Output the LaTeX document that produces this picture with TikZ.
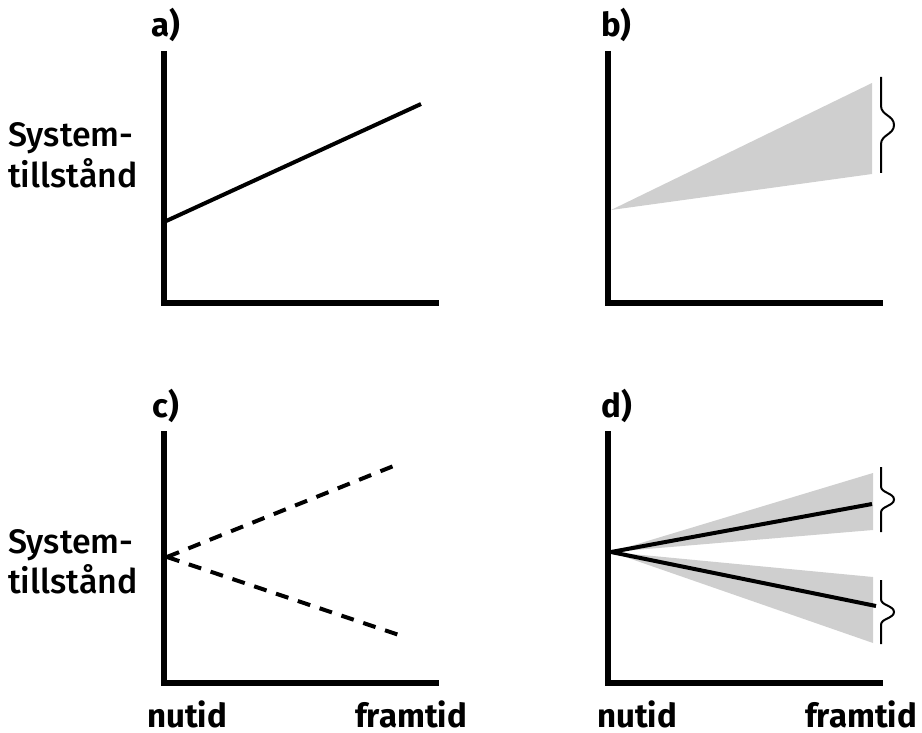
\documentclass[tikz,border=0pt]{standalone}
\usepackage{fontspec}
\setmainfont{Fira Sans}
\newfontfamily\medfont{Fira Sans Medium}
\usetikzlibrary{calc}
\tikzset{
  axisline/.style={line width=6pt, line join=miter},
  trendline/.style={line width=4pt},
  guessline/.style={line width=4pt, dash pattern=on 13pt off 10pt},
  spreadfill/.style={fill=black!19, draw=none},
  bracemark/.style={line width=2pt},
}
% curly bracket on the right of a spread: x, top, bottom
\newcommand{\spreadbrace}[3]{%
  \pgfmathsetmacro{\bm}{(#2+#3)/2}%
  \pgfmathsetmacro{\bh}{0.2*(#3-#2)}%
  \draw[bracemark] (#1,#2) -- (#1,\bm-\bh)
    .. controls (#1,\bm-0.5*\bh) and (#1+13,\bm-0.5*\bh) .. (#1+13,\bm)
    .. controls (#1+13,\bm+0.5*\bh) and (#1,\bm+0.5*\bh) .. (#1,\bm+\bh)
    -- (#1,#3);
}
\begin{document}
\begin{tikzpicture}[
  x=1pt, y=-1pt,
  paneltag/.style={anchor=base west, inner sep=0pt, font=\fontsize{33}{36}\selectfont\bfseries},
  ylabel/.style={anchor=base west, inner sep=0pt, font=\fontsize{34}{40}\selectfont\medfont},
  xlabel/.style={anchor=base west, inner sep=0pt, font=\fontsize{33}{40}\selectfont\bfseries},
]
  \useasboundingbox (0,0) rectangle (922,733);

  % axes of the four panels
  \foreach \dx/\dy in {0/0,444/0,0/380,444/380}
    \draw[axisline] (164+\dx,51+\dy) |- (439+\dx,303+\dy);

  % panel tags
  \node[paneltag] (tagA) at (151,37) {a)};
  \node[paneltag] (tagB) at (601,37) {b)};
  \node[paneltag] (tagC) at (152,417) {c)};
  \node[paneltag] (tagD) at (601,417) {d)};

  % y labels
  \node[ylabel] (sysA) at (8,147) {System-};
  \node[ylabel] (tilA) at (8,188) {tillstånd};
  \node[ylabel] (sysC) at (8,553) {System-};
  \node[ylabel] (tilC) at (8,593) {tillstånd};

  % x labels
  \node[xlabel] (nowC) at (147,727) {nutid};
  \node[xlabel] (futC) at (355,727) {framtid};
  \node[xlabel] (nowD) at (597,727) {nutid};
  \node[xlabel] (futD) at (805,727) {framtid};

  % a) one trend
  \coordinate (aStart) at (164,222);
  \coordinate (aEnd) at (421,104);
  \draw[trendline] (aStart) -- (aEnd);

  % b) growing spread
  \coordinate (bStart) at (611,210);
  \coordinate (bTop) at (872,83);
  \coordinate (bBot) at (872,174);
  \fill[spreadfill] (bStart) -- (bTop) -- (bBot) -- cycle;
  \spreadbrace{881}{77}{173}

  % c) two guesses
  \coordinate (cStart) at (167,557);
  \coordinate (cUp) at (396,465);
  \coordinate (cDown) at (405,637);
  \draw[guessline] (cStart) -- (cUp);
  \draw[guessline] (cStart) -- (cDown);

  % d) two trends with spread
  \coordinate (dStart) at (611,552);
  \fill[spreadfill] (dStart) -- (873,473) -- (873,530) -- cycle;
  \fill[spreadfill] (dStart) -- (873,577) -- (873,643) -- cycle;
  \coordinate (dUp) at (872,504);
  \coordinate (dDown) at (876,606);
  \draw[trendline] (dStart) -- (dUp);
  \draw[trendline] (dStart) -- (dDown);
  \spreadbrace{881}{467}{532}
  \spreadbrace{881}{580}{644}
\end{tikzpicture}
\end{document}
